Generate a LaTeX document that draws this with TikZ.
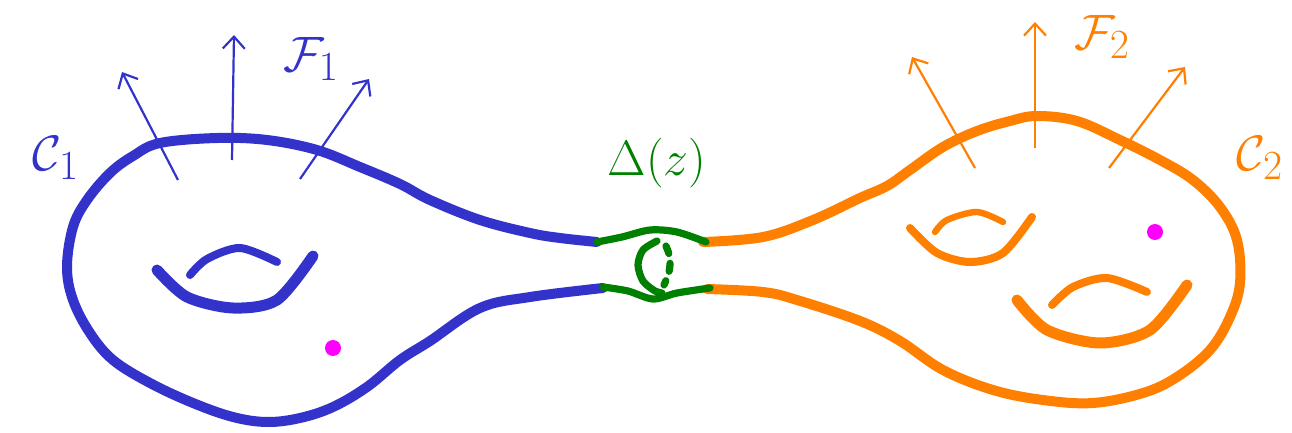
\documentclass[tikz,border=0pt]{standalone}
\usetikzlibrary{arrows.meta}
\definecolor{cblue}{RGB}{51,51,204}
\definecolor{corange}{RGB}{255,128,0}
\definecolor{cgreen}{RGB}{0,128,0}
\definecolor{cmag}{RGB}{255,0,255}
\begin{document}
\begin{tikzpicture}[x=0.5pt,y=-0.5pt,
  outline/.style={line width=5pt,line cap=round,line join=round},
  handlelow/.style={line width=5.5pt,line cap=round},
  handleup/.style={line width=4pt,line cap=round},
  neck/.style={cgreen,line width=3.6pt,line cap=round},
  normal/.style={line width=1.1pt,-{Straight Barb[length=6pt,width=11pt,line width=1.1pt]}},
  lab/.style={font=\fontsize{28}{34}\selectfont,inner sep=0pt},
  puncture/.style={fill=cmag,draw=none}]
\useasboundingbox (0,0) rectangle (1292,433);
% blue surface
\draw[cblue,outline] plot[smooth,tension=0.6] coordinates {(597,242) (560,238) (530,233) (480,220) (430,200) (400,184) (360,167) (317,150) (267,140) (217,138) (160,143) (133,156) (110,173) (87,200) (73,227) (67,267) (73,300) (90,333) (113,360) (150,383) (193,403) (233,417) (267,422) (300,418) (333,407) (367,387) (400,360) (430,341) (480,308) (530,297) (603,288)};
\draw[cblue,handlelow] plot[smooth] coordinates {(157,270) (187,297) (233,308) (277,300) (313,256)};
\draw[cblue,handleup] plot[smooth] coordinates {(190,275) (207,259) (240,248) (277,262)};
\fill[puncture] (333,348) circle (8);
% orange surface
\draw[corange,outline] plot[smooth,tension=0.6] coordinates {(703,242) (763,237) (813,220) (860,198) (887,186) (910,170) (943,147) (977,131) (1010,121) (1037,116) (1077,121) (1120,140) (1160,160) (1193,180) (1220,207) (1237,240) (1240,283) (1230,317) (1210,350) (1177,377) (1143,393) (1093,403) (1043,400) (993,390) (943,370) (900,341) (860,321) (797,300) (763,292) (707,289)};
\draw[corange,handleup] plot[smooth] coordinates {(910,228) (937,253) (970,262) (1003,253) (1032,217)};
\draw[corange,line width=3.2pt,line cap=round] plot[smooth] coordinates {(935,232) (947,220) (977,212) (1003,222)};
\draw[corange,handlelow] plot[smooth] coordinates {(1017,300) (1047,330) (1100,343) (1150,330) (1187,285)};
\draw[corange,handleup] plot[smooth] coordinates {(1052,305) (1073,287) (1107,278) (1147,292)};
\fill[puncture] (1155,232) circle (8);
% green neck
\draw[neck] plot[smooth] coordinates {(597,242) (622,237) (650,230) (677,232) (706,242)};
\draw[neck] plot[smooth] coordinates {(603,287) (628,291) (653,299) (677,293) (710,288)};
\draw[neck] plot[smooth] coordinates {(657,241) (643,250) (638,265) (643,281) (655,291) (662,293)};
\draw[neck,dash pattern=on 4pt off 5pt] plot[smooth] coordinates {(666,246) (670,258) (669,272) (664,285)};
% normal vectors
\coordinate (b1s) at (178,180); \coordinate (b1e) at (122,72);
\coordinate (b2s) at (232,160); \coordinate (b2e) at (234,35);
\coordinate (b3s) at (300,179); \coordinate (b3e) at (369,79);
\draw[cblue,normal] (b1s) -- (b1e);
\draw[cblue,normal] (b2s) -- (b2e);
\draw[cblue,normal] (b3s) -- (b3e);
\coordinate (o1s) at (975,168); \coordinate (o1e) at (912,57);
\coordinate (o2s) at (1035,148); \coordinate (o2e) at (1035,22);
\coordinate (o3s) at (1109,168); \coordinate (o3e) at (1185,67);
\draw[corange,normal] (o1s) -- (o1e);
\draw[corange,normal] (o2s) -- (o2e);
\draw[corange,normal] (o3s) -- (o3e);
% labels
\node[lab,text=cblue] (C1) at (56,158) {$\mathcal{C}_1$};
\node[lab,text=cblue] (F1) at (311,59) {$\mathcal{F}_1$};
\node[lab,text=cgreen] (D) at (657,163) {$\Delta(z)$};
\node[lab,text=corange] (F2) at (1102,37) {$\mathcal{F}_2$};
\node[lab,text=corange] (C2) at (1260,158) {$\mathcal{C}_2$};
\end{tikzpicture}
\end{document}
